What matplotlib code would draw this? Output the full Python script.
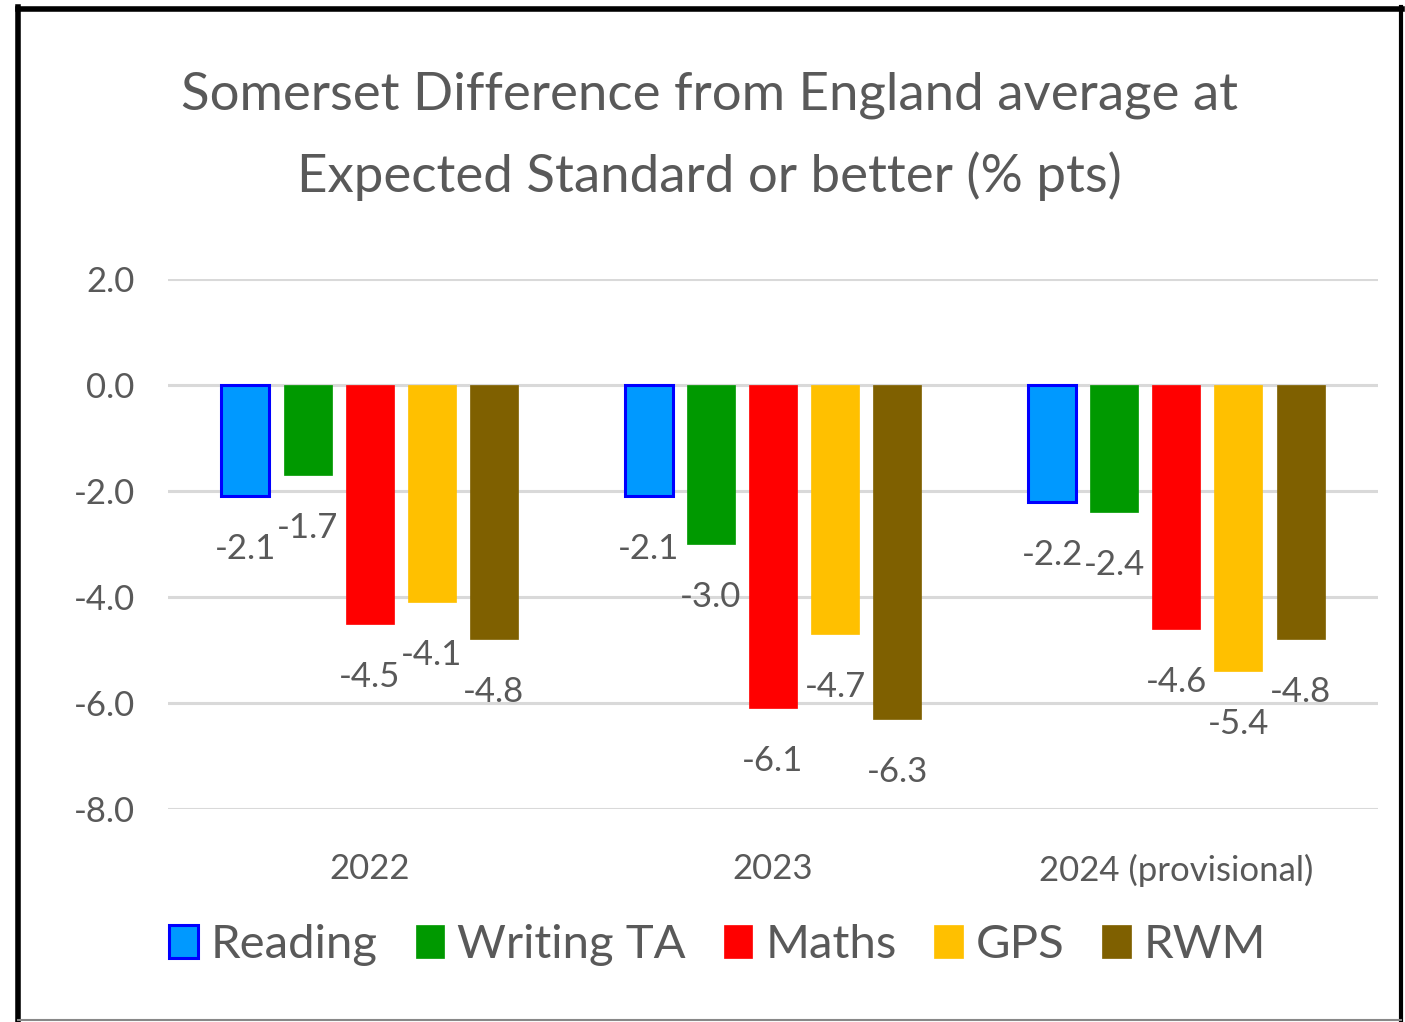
import matplotlib
matplotlib.use('Agg')
import matplotlib.pyplot as plt
import numpy as np
from matplotlib.lines import Line2D
from matplotlib.patches import Patch

# data
years = ['2022', '2023', '2024 (provisional)']
series = ['Reading', 'Writing TA', 'Maths', 'GPS', 'RWM']
reading = [-2.1, -2.1, -2.2]
writing = [-1.7, -3.0, -2.4]
maths = [-4.5, -6.1, -4.6]
gps = [-4.1, -4.7, -5.4]
rwm = [-4.8, -6.3, -4.8]

colours = ['#0099ff', '#009900', '#ff0000', '#ffc000', '#7f6000']
edges = ['#0000ff', '#009900', '#ff0000', '#ffc000', '#7f6000']
grey = '#595959'

plt.rcParams['font.family'] = ['Lato', 'DejaVu Sans']

fig = plt.figure(figsize=(14.05, 10.22), dpi=100)
ax = fig.add_axes([0.1196, 0.2084, 0.8612, 0.5186])

x = np.arange(len(years))
pitch = 0.154
width = 0.119
allvals = [reading, writing, maths, gps, rwm]
for j, vals in enumerate(allvals):
    xs = x + (j - 2) * pitch
    lw = 2.2 if j == 0 else 0.5
    ax.bar(xs, vals, width, color=colours[j], edgecolor=edges[j], linewidth=lw,
           label=series[j], zorder=3)
    for xi, v in zip(xs, vals):
        ax.text(xi, v - 1.0, '%.1f' % v, ha='center', va='center',
                fontsize=25, color=grey, zorder=4)

ax.set_ylim(-8, 2)
ax.set_xlim(-0.5, 2.5)
ax.set_yticks(np.arange(-8, 2.1, 2))
ax.set_yticklabels(['%.1f' % t for t in np.arange(-8, 2.1, 2)])
ax.set_xticks(x)
ax.set_xticklabels(years)
ax.tick_params(axis='y', length=0, pad=24, labelsize=25, labelcolor=grey)
ax.tick_params(axis='x', length=0, pad=32, labelsize=25, labelcolor=grey)
ax.grid(axis='y', color='#d9d9d9', linewidth=2.2, zorder=0)
ax.set_axisbelow(True)
for s in ax.spines.values():
    s.set_visible(False)

fig.text(0.505, 0.8664, 'Somerset Difference from England average at\nExpected Standard or better (% pts)',
         ha='center', va='center', fontsize=38, color=grey, linespacing=1.8)

handles = [Patch(facecolor=colours[j], edgecolor=edges[j], linewidth=2.2 if j == 0 else 0.5)
           for j in range(len(series))]
fig.legend(handles, series, loc='center', bbox_to_anchor=(0.511, 0.075), ncol=5,
           frameon=False, fontsize=34, labelcolor=grey, handlelength=0.6,
           handleheight=0.7, handletextpad=0.28, columnspacing=0.8)

# frame round the chart
fig.add_artist(Line2D([0.0125, 0.998], [0.991, 0.991], color='black', linewidth=4, transform=fig.transFigure))
fig.add_artist(Line2D([0.0125, 0.0125], [0.002, 0.993], color='black', linewidth=4, transform=fig.transFigure))
fig.add_artist(Line2D([0.997, 0.997], [0.002, 0.993], color='black', linewidth=3, transform=fig.transFigure))
fig.add_artist(Line2D([0.0125, 0.997], [0.002, 0.002], color='#888888', linewidth=1.5, transform=fig.transFigure))

fig.savefig('out.png', dpi=100)
